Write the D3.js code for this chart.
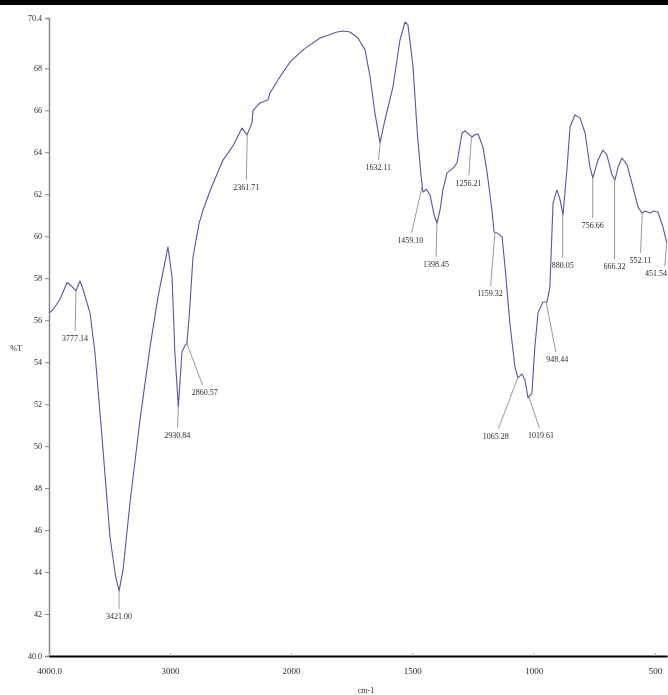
<!DOCTYPE html>
<html>
<head>
<meta charset="utf-8">
<script src="https://cdn.jsdelivr.net/npm/d3@7/dist/d3.min.js"></script>
<style>
  html, body { margin: 0; padding: 0; background: #fff; overflow: hidden; }
  svg { display: block; will-change: transform; }
</style>
</head>
<body>
<svg id="chart" width="668" height="695"></svg>
<script>
// ---- data ----
const wavenumbers = [4000,3967,3909,3851,3826,3777,3744,3720,3661,3620,3562,3496,3450,3421,3388,3331,3248,3165,3099,3017,2983,2960,2931,2901,2875,2860,2840,2810,2760,2727,2660,2562,2480,2405,2364,2322,2314,2256,2190,2174,2091,2008,1951,1880,1810,1786,1757,1724,1695,1674,1654,1633,1613,1580,1551,1530,1518,1497,1480,1465,1456,1443,1427,1410,1398,1385,1374,1357,1332,1316,1295,1283,1270,1254,1240,1229,1209,1192,1172,1163,1151,1130,1118,1098,1077,1065,1048,1036,1023,1007,995,982,962,945,933,920,904,891,879,863,850,830,809,788,768,756,735,714,698,677,665,652,636,615,591,570,554,540,521,505,488,467,451];
const transmittance = [56.35,56.5,57.0,57.8,57.7,57.4,57.87,57.5,56.35,54.44,50.44,45.67,43.8,43.1,44.1,47.29,51.25,54.73,57.11,59.49,58.06,54.5,51.87,54.5,54.8,54.9,56.3,59.0,60.6,61.25,62.3,63.63,64.3,65.16,64.83,65.4,66.0,66.35,66.5,66.83,67.6,68.3,68.88,69.45,69.73,69.78,69.73,69.45,68.88,67.59,65.87,64.45,65.54,67.11,69.35,70.21,70.07,68.07,65.0,63.0,62.1,62.25,61.97,61.0,60.63,61.3,62.21,63.02,63.25,63.49,64.92,65.02,64.9,64.73,64.85,64.87,64.25,63.06,61.25,60.2,60.16,59.97,58.54,55.87,53.77,53.25,53.44,53.15,52.3,52.53,54.73,56.35,56.87,56.87,57.58,61.59,62.21,61.73,61.01,63.16,65.21,65.78,65.64,64.92,63.3,62.78,63.63,64.11,63.87,62.92,62.68,63.3,63.73,63.4,62.35,61.4,61.11,61.2,61.11,61.2,61.16,60.44,59.68];

const peakWavenumbers = [3777.14,3421.00,2930.84,2860.57,2361.71,1632.11,1459.10,1398.45,1256.21,1159.32,1065.28,1019.61,948.44,880.05,756.66,666.32,552.11,451.54];
const peakLabels = ["3777.14","3421.00","2930.84","2860.57","2361.71","1632.11","1459.10","1398.45","1256.21","1159.32","1065.28","1019.61","948.44","880.05","756.66","666.32","552.11","451.54"];

const xTickValues = [4000,3000,2000,1500,1000,500];
const xTickLabels = ["4000.0","3000","2000","1500","1000","500"];
const yTickValues = [70.4,68,66,64,62,60,58,56,54,52,50,48,46,44,42,40];
const yTickLabels = ["70.4","68","66","64","62","60","58","56","54","52","50","48","46","44","42","40.0"];

// ---- layout (label offsets relative to the marked point, px; anchor) ----
const peakLabelOffsets = [[-1,47],[0,25],[-1,28],[18,49],[-1,53],[-2,25],[-12,54],[-1,41],[-3,46],[-5,61],[-22,58],[12,38],[11,57],[0,51],[0,48],[0,87],[-2,47],[-4,31]];
const peakLabelAnchors = ["middle","middle","middle","middle","middle","middle","middle","middle","middle","middle","middle","middle","middle","middle","middle","middle","middle","end"];

const svg = d3.select("#chart");
svg.append("rect").attr("x",0).attr("y",0).attr("width",668).attr("height",695).attr("fill","#fff");
svg.append("rect").attr("x",0).attr("y",0).attr("width",668).attr("height",5).attr("fill","#000");

// split x-scale: 4000-2000 at half scale, like the instrument output
const x = d3.scaleLinear().domain([4000, 2000, 450]).range([49, 291, 667.1]);
const y = d3.scaleLinear().domain([40, 70.4]).range([656, 18]);

const font = "'Liberation Serif', 'DejaVu Serif', serif";
const textCol = "#2a2a2a";

// y axis
const yAxis = d3.axisLeft(y).tickValues(yTickValues)
  .tickFormat((d,i) => yTickLabels[i]).tickSize(4).tickPadding(3);
const gy = svg.append("g").attr("transform","translate(49,0)").call(yAxis);
gy.select(".domain").attr("stroke","#888").attr("stroke-width",1.5);
gy.selectAll(".tick line").attr("stroke","#888");
gy.selectAll(".tick text").attr("font-family",font).attr("font-size",8).attr("fill",textCol);

// x axis
const xAxis = d3.axisBottom(x).tickValues(xTickValues)
  .tickFormat((d,i) => xTickLabels[i]).tickSizeInner(-3).tickSizeOuter(0).tickPadding(12);
const gx = svg.append("g").attr("transform","translate(0,656)").call(xAxis);
gx.select(".domain").attr("stroke","#000").attr("stroke-width",2);
gx.selectAll(".tick line").attr("stroke","#aaa");
gx.selectAll(".tick text").attr("font-family",font).attr("font-size",9).attr("fill",textCol);

// axis titles
svg.append("text").attr("x",16).attr("y",351).attr("text-anchor","middle")
  .attr("font-family",font).attr("font-size",8).attr("fill",textCol).text("%T");
svg.append("text").attr("x",366).attr("y",693).attr("text-anchor","middle")
  .attr("font-family",font).attr("font-size",8).attr("fill",textCol).text("cm-1");

// spectrum
const pts = wavenumbers.map((w,i) => [w, transmittance[i]]);
svg.append("path").datum(pts)
  .attr("fill","none").attr("stroke","#5555a8").attr("stroke-width",1.1)
  .attr("stroke-linejoin","round")
  .attr("d", d3.line().x(d => x(d[0])).y(d => y(d[1])));

// interpolate transmittance at a wavenumber
function tAt(w) {
  for (let i = 0; i < wavenumbers.length - 1; i++) {
    const a = wavenumbers[i], b = wavenumbers[i+1];
    if (w <= a && w >= b) {
      const t = (a - w) / (a - b);
      return transmittance[i] + t * (transmittance[i+1] - transmittance[i]);
    }
  }
  return transmittance[transmittance.length-1];
}

// peak annotations
const ann = svg.append("g");
peakWavenumbers.forEach((w, i) => {
  const px = x(w), py = y(tAt(w));
  const [dx, dy] = peakLabelOffsets[i];
  const anchor = peakLabelAnchors[i];
  let lx = px + dx;
  const ly = py + dy;
  if (anchor === "end") lx = 667;
  const ex = anchor === "end" ? px - 2 : lx + (px - lx) * 0.12, ey = ly - 7;
  ann.append("line").attr("x1",px).attr("y1",py).attr("x2",ex).attr("y2",ey)
    .attr("stroke","#999").attr("stroke-width",1);
  ann.append("text").attr("x",lx).attr("y",ly + 3).attr("text-anchor",anchor)
    .attr("font-family",font).attr("font-size",8).attr("fill",textCol).text(peakLabels[i]);
});
</script>
</body>
</html>
